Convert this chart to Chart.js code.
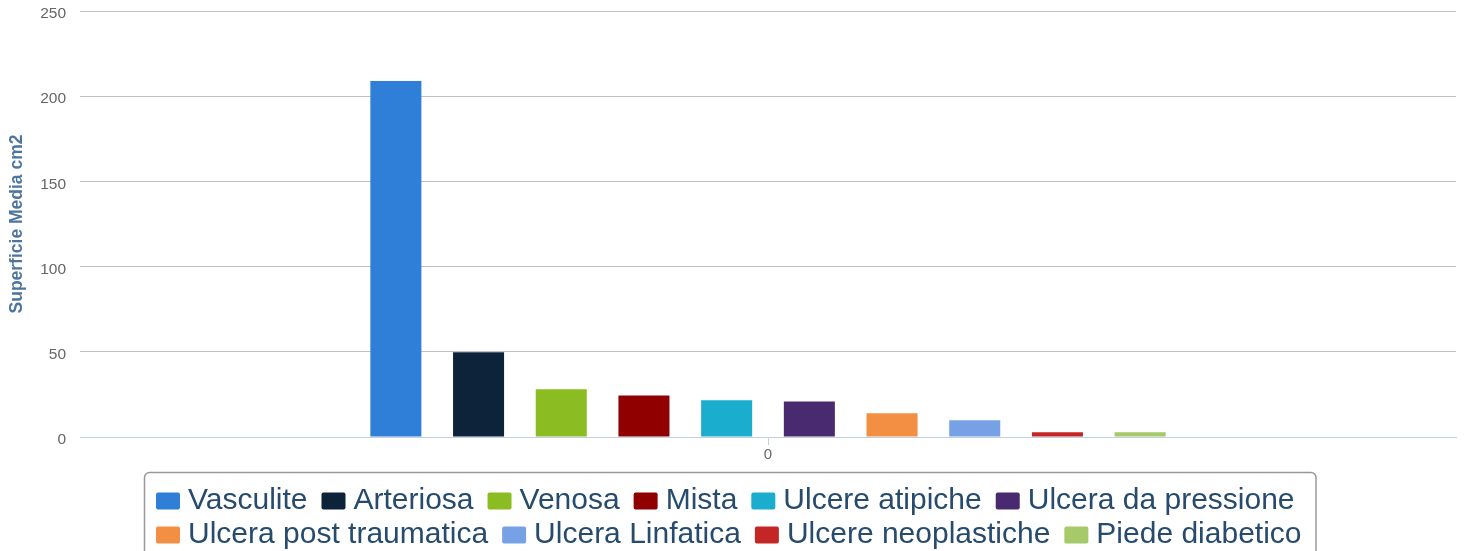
<!DOCTYPE html>
<html>
<head>
<meta charset="utf-8">
<script src="https://cdn.jsdelivr.net/npm/chart.js@4"></script>
<style>
  html, body { margin: 0; padding: 0; background: #fff; }
  #wrap { width: 1464px; height: 551px; }
</style>
</head>
<body>
<div id="wrap"><canvas id="chart"></canvas></div>
<script>
// series (one category, ten series)
const categoryLabels = ['0'];
const seriesNames = ['Vasculite', 'Arteriosa', 'Venosa', 'Mista', 'Ulcere atipiche',
  'Ulcera da pressione', 'Ulcera post traumatica', 'Ulcera Linfatica', 'Ulcere neoplastiche', 'Piede diabetico'];
const seriesValues = [208.9, 49.7, 28.0, 24.4, 21.5, 20.9, 13.9, 9.8, 2.8, 2.8];
const seriesColors = ['#2f7ed8', '#0d233a', '#8bbc21', '#910000', '#1aadce',
  '#492970', '#f28f43', '#77a1e5', '#c42525', '#a6c96a'];
const yTitle = 'Superficie Media cm2';

const FONT = '"Liberation Sans", Arial, sans-serif';

// legend in a rounded box, items left aligned, 6 on first row
const boxedLegend = {
    id: 'boxedLegend',
    afterDraw(chart) {
        const ctx = chart.ctx;
        ctx.save();
        ctx.font = '30px ' + FONT;
        const items = seriesNames.map((name, i) => ({ i, name, w: ctx.measureText(name).width }));
        const rows = [items.slice(0, 6), items.slice(6)];
        const rowWidth = row => row.reduce((s, it) => s + 24 + 8 + it.w, 0) + (row.length - 1) * 14;
        const boxW = Math.max(...rows.map(rowWidth)) + 26;
        const left = Math.round(chart.width / 2 - 2 - boxW / 2) + 0.5;
        const top = chart.chartArea.bottom + 35.5;

        ctx.strokeStyle = '#999999';
        ctx.lineWidth = 1.5;
        ctx.beginPath();
        ctx.roundRect(left, top, boxW, 120, 5);
        ctx.stroke();

        ctx.textBaseline = 'alphabetic';
        rows.forEach((row, r) => {
            let x = left + 11.5;
            const base = top + 36 + r * 34;
            row.forEach(it => {
                ctx.fillStyle = seriesColors[it.i];
                ctx.beginPath();
                ctx.roundRect(x, base - 16, 24, 17, 2);
                ctx.fill();
                ctx.fillStyle = '#274b6d';
                ctx.fillText(it.name, x + 32, base);
                x += 24 + 8 + it.w + 14;
            });
        });
        ctx.restore();
    }
};

const datasets = seriesNames.map((name, i) => ({
    label: name,
    data: [seriesValues[i]],
    backgroundColor: seriesColors[i],
    borderWidth: 0,
    categoryPercentage: 0.601,
    barPercentage: 0.617
}));

new Chart(document.getElementById('chart'), {
    type: 'bar',
    data: { labels: categoryLabels, datasets },
    plugins: [boxedLegend],
    options: {
        responsive: true,
        maintainAspectRatio: false,
        animation: false,
        events: [],
        layout: { padding: { top: 0, right: 8, bottom: 0, left: 0 } },
        plugins: {
            legend: { display: false },
            tooltip: { enabled: false }
        },
        scales: {
            x: {
                afterFit: s => { s.height = 114; },
                grid: { drawOnChartArea: false, offset: false, color: '#c0d0e0', tickLength: 8 },
                border: { color: '#c0d0e0', width: 1, z: 1 },
                ticks: { color: '#666666', padding: 1, font: { family: FONT, size: 15 } }
            },
            y: {
                min: 0,
                max: 250,
                afterFit: s => { s.width = 80; s.paddingTop = 11; s.paddingBottom = 0; },
                ticks: { stepSize: 50, color: '#666666', padding: 14, labelOffset: 3, font: { family: FONT, size: 15.5 } },
                grid: {
                    drawTicks: false,
                    color: c => (c.tick && c.tick.value === 0) ? 'rgba(0,0,0,0)' : '#c0c0c0'
                },
                border: { display: false },
                title: {
                    display: true,
                    text: yTitle,
                    color: '#4d759e',
                    padding: { top: 7, bottom: 0 },
                    font: { family: FONT, size: 17.5, weight: 'bold' }
                }
            }
        }
    }
});
</script>
</body>
</html>
